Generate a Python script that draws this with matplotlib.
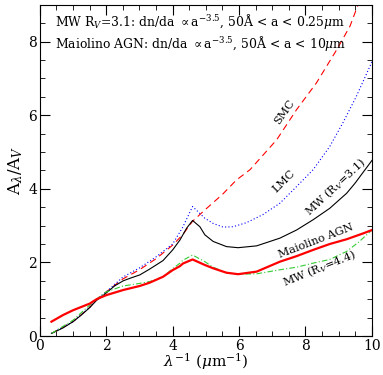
import matplotlib
matplotlib.use("Agg")
import matplotlib.pyplot as plt
from matplotlib.ticker import MultipleLocator

plt.rcParams["font.family"] = "DejaVu Serif"
plt.rcParams["mathtext.fontset"] = "dejavuserif"

# MW R_V=3.1 (black solid)
mw31_x = [0.35, 0.7, 1.0, 1.25, 1.5, 1.71, 1.85, 2.0, 2.25, 2.51, 2.75, 3.01, 3.31, 3.71, 4.0, 4.22,
          4.42, 4.6, 4.82, 4.97, 5.22, 5.62, 5.97, 6.53, 7.23, 7.73, 8.23, 8.73, 9.24, 9.49, 10.0]
mw31_y = [0.07, 0.22, 0.39, 0.57, 0.77, 0.97, 1.06, 1.17, 1.36, 1.50, 1.58, 1.66, 1.82, 2.05, 2.34, 2.61,
          2.93, 3.14, 2.97, 2.75, 2.57, 2.43, 2.40, 2.45, 2.66, 2.88, 3.16, 3.47, 3.88, 4.15, 4.77]

# LMC (blue dotted)
lmc_x = [0.35, 1.0, 1.5, 1.71, 2.0, 2.5, 3.0, 3.5, 4.0, 4.3, 4.6, 4.97, 5.22, 5.52, 5.82,
         6.22, 6.72, 7.23, 7.73, 8.23, 8.73, 9.13, 9.53, 10.0]
lmc_y = [0.07, 0.39, 0.78, 1.0, 1.2, 1.6, 1.85, 2.15, 2.5, 2.95, 3.52, 3.2, 3.06, 2.96, 2.97,
         3.08, 3.3, 3.61, 4.06, 4.52, 5.15, 5.8, 6.51, 7.45]

# SMC (red dashed)
smc_x = [0.35, 1.0, 1.5, 1.71, 2.0, 2.5, 3.0, 3.5, 4.0, 4.3, 4.6, 5.0, 5.5, 5.92, 6.33,
         7.13, 7.73, 8.33, 8.94, 9.34, 9.64]
smc_y = [0.07, 0.39, 0.78, 1.0, 1.2, 1.55, 1.8, 2.1, 2.47, 2.75, 3.12, 3.45, 3.85, 4.24, 4.52,
         5.33, 6.15, 6.88, 7.78, 8.42, 9.14]

# Maiolino AGN (red solid)
agn_x = [0.35, 0.7, 1.0, 1.5, 1.71, 2.0, 2.51, 3.01, 3.31, 3.71, 4.0, 4.22, 4.31, 4.6, 4.97,
         5.22, 5.62, 5.97, 6.53, 7.23, 7.73, 8.23, 8.73, 9.24, 9.74, 10.0]
agn_y = [0.39, 0.57, 0.70, 0.88, 1.0, 1.11, 1.25, 1.36, 1.45, 1.61, 1.79, 1.9, 1.97, 2.08, 1.93,
         1.84, 1.72, 1.68, 1.75, 2.02, 2.17, 2.34, 2.5, 2.63, 2.79, 2.88]

# MW R_V=4.4 (green dash-dot)
mw44_x = [0.35, 1.0, 1.5, 1.71, 2.0, 2.51, 3.01, 3.31, 3.71, 4.0, 4.22, 4.31, 4.6, 4.97, 5.22,
          5.62, 5.97, 6.53, 7.23, 7.73, 8.23, 8.73, 9.24, 9.6, 10.0]
mw44_y = [0.07, 0.43, 0.84, 1.0, 1.2, 1.36, 1.43, 1.48, 1.61, 1.83, 1.98, 2.06, 2.2, 2.02, 1.87,
          1.72, 1.68, 1.69, 1.8, 1.87, 1.98, 2.08, 2.30, 2.55, 2.88]

fig = plt.figure(figsize=(3.83, 3.75), dpi=100)
ax = fig.add_axes([0.104, 0.104, 0.867, 0.883])

ax.plot(smc_x, smc_y, color="red", ls=(0, (6, 4)), lw=0.8)
ax.plot(lmc_x, lmc_y, color="blue", ls=(0, (1, 2)), lw=0.8)
ax.plot(mw31_x, mw31_y, color="black", lw=0.8)
ax.plot(mw44_x, mw44_y, color="#33cc33", ls=(0, (5, 2, 1, 2)), lw=0.8)
ax.plot(agn_x, agn_y, color="red", lw=1.6)

ax.set_xlim(0, 10)
ax.set_ylim(0, 9)
ax.xaxis.set_major_locator(MultipleLocator(2))
ax.xaxis.set_minor_locator(MultipleLocator(0.5))
ax.yaxis.set_major_locator(MultipleLocator(2))
ax.yaxis.set_minor_locator(MultipleLocator(0.5))
ax.tick_params(which="both", direction="in", top=True, right=True, labelsize=10, pad=2)
ax.tick_params(which="major", length=7)
ax.tick_params(which="minor", length=3.5)

ax.set_xlabel(r"$\lambda^{-1}$ ($\mu$m$^{-1}$)", fontsize=11, labelpad=-1)
ax.set_ylabel(r"A$_\lambda$/A$_V$", fontsize=12, labelpad=2)

ax.text(0.45, 8.55, r"MW R$_V$=3.1: dn/da $\propto$a$^{-3.5}$, 50Å < a < 0.25$\mu$m", fontsize=8.9, va="center")
ax.text(0.45, 7.95, r"Maiolino AGN: dn/da $\propto$a$^{-3.5}$, 50Å < a < 10$\mu$m", fontsize=8.9, va="center")

ax.text(7.38, 6.1, "SMC", rotation=55, fontsize=8, ha="center", va="center")
ax.text(7.35, 4.2, "LMC", rotation=45, fontsize=8, ha="center", va="center")
ax.text(8.89, 4.05, r"MW (R$_V$=3.1)", rotation=43, fontsize=8, ha="center", va="center")
ax.text(8.33, 2.57, "Maiolino AGN", rotation=21, fontsize=8, ha="center", va="center")
ax.text(8.43, 1.84, r"MW (R$_V$=4.4)", rotation=22, fontsize=8, ha="center", va="center")

fig.savefig("out.png", dpi=100)
